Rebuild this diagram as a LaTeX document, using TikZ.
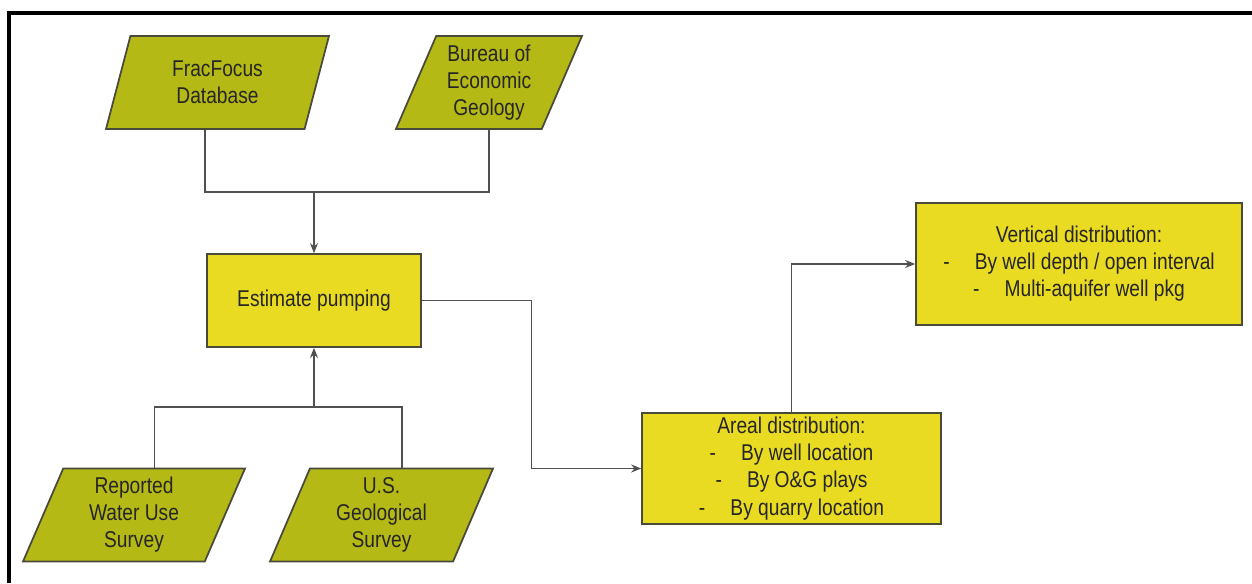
\documentclass[tikz,border=0pt]{standalone}
\usepackage{fontspec}
\setmainfont[FakeStretch=0.84]{Liberation Sans}
\usetikzlibrary{shapes.geometric,arrows.meta,positioning,calc}
\definecolor{srcolive}{HTML}{B5B916}
\definecolor{boxyellow}{HTML}{E9DA22}
\definecolor{edgegray}{HTML}{4A4A3A}
\definecolor{linegray}{HTML}{505050}

\begin{document}
\begin{tikzpicture}[
  x=0.02cm, y=-0.02cm,
  every node/.style={font=\fontsize{13pt}{15.4pt}\selectfont, text=black!85},
  src/.style={trapezium, trapezium left angle=64, trapezium right angle=116, trapezium stretches body, draw=edgegray, line width=1pt, fill=srcolive, minimum height=1.86cm, align=center, inner sep=2pt},
  box/.style={rectangle, draw=edgegray, line width=1pt, fill=boxyellow, align=center, inner sep=2pt},
  link/.style={draw=linegray, line width=1pt},
  arr/.style={link, -{Stealth[length=2mm, width=1.6mm]}}
]
\useasboundingbox (0,0) rectangle (1252,583);

% Frame edges
\draw[line width=2.3pt] (9,583) -- (9,13) -- (1252,13);

% Data sources
\node[src, minimum width=4.46cm] (fracfocus) at (217.5,82.5) {FracFocus\\Database};
\node[src, minimum width=3.72cm] (beg) at (489,82.5) {Bureau of\\Economic\\Geology};
\node[src, minimum width=4.44cm] (rwus) at (134,515) {Reported\\Water Use\\Survey};
\node[src, minimum width=4.46cm] (usgs) at (381.5,515) {U.S.\\Geological\\Survey};

% Processing steps
\node[box, minimum width=4.28cm, minimum height=1.86cm] (pumping) at (314,300.5) {Estimate pumping};
\node[box, minimum width=5.98cm, minimum height=2.22cm] (areal) at (791.5,468.5) {Areal distribution:\\-\hspace{1.1em}By well location\\-\hspace{1.1em}By O\&G plays\\-\hspace{1.1em}By quarry location};
\node[box, minimum width=6.52cm, minimum height=2.44cm] (vertical) at (1079,264) {Vertical distribution:\\-\hspace{1.1em}By well depth / open interval\\-\hspace{1.1em}Multi-aquifer well pkg};

% Joints
\coordinate (topjoin) at (314,192);
\coordinate (botjoin) at (314,407);
\coordinate (midA) at ($(pumping.east)!0.5!(areal.west)$);

% Arrows
\draw[link] (fracfocus.bottom side) |- (topjoin) -| (beg.south);
\draw[arr] (topjoin) -- (pumping.north);
\draw[link] (rwus.top side) |- (botjoin) -| (usgs.top side);
\draw[arr, line width=1.6pt] (botjoin) -- (pumping.south);
\draw[arr] (pumping.east) -| (midA) |- (areal.west);
\draw[arr] (areal.north) |- (vertical.west);

\end{tikzpicture}
\end{document}
